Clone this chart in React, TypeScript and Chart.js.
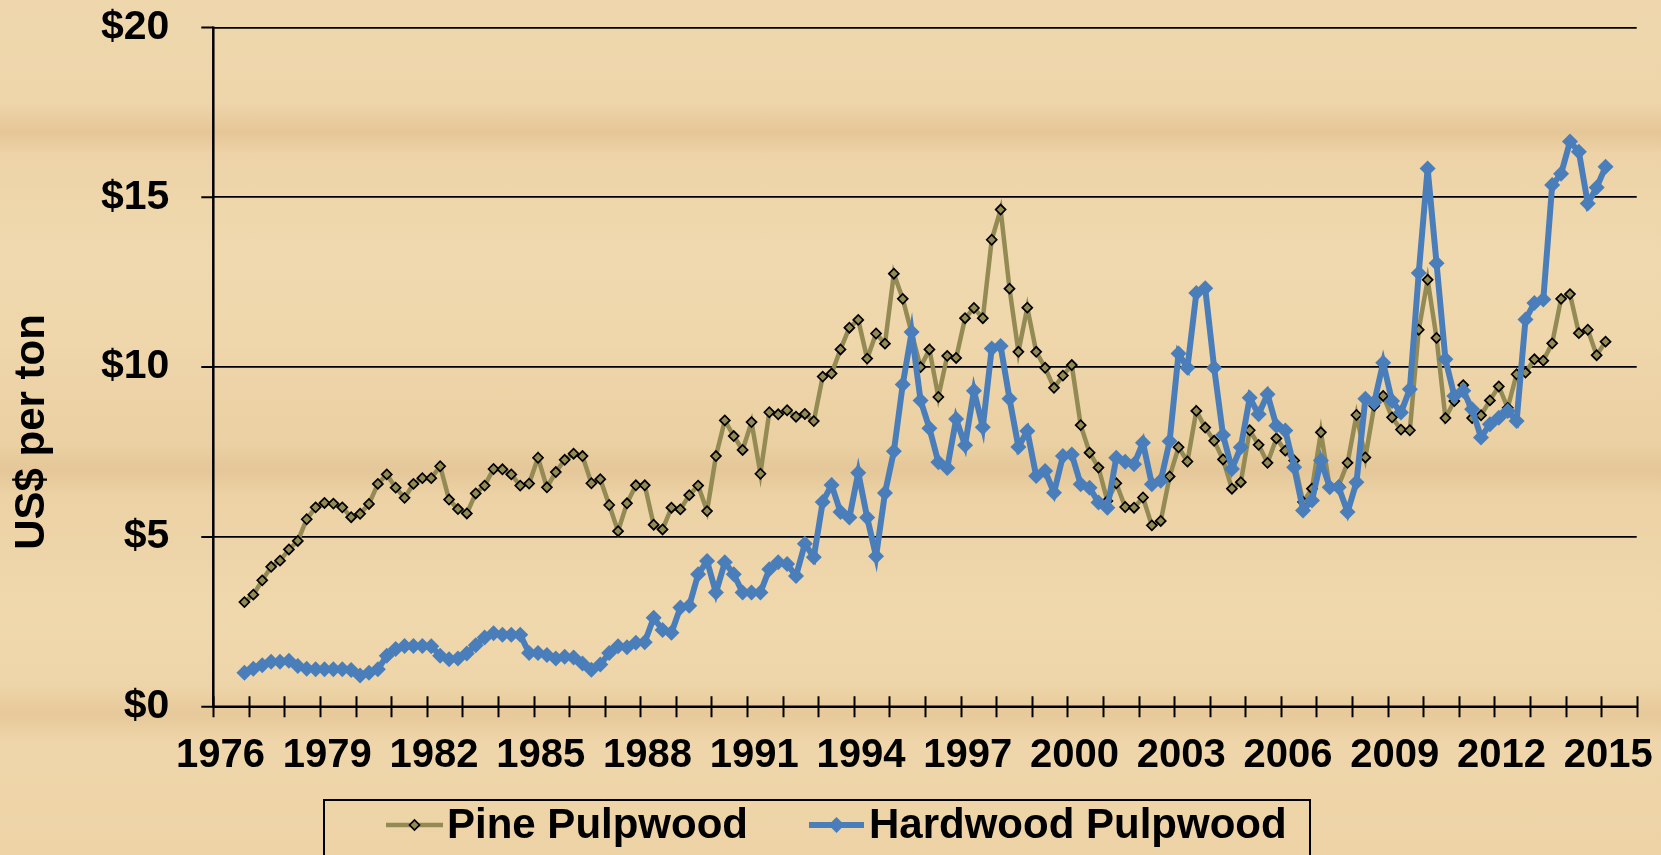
import React, { useEffect, useRef } from "react";
import { Chart, registerables } from "chart.js";

Chart.register(...registerables);

// ---- data ----
const firstYear = 1976;
const firstQuarter = 4; // series begin in 1976 Q4, quarterly through 2015 Q1
const xMin = 1976;
const xMax = 2016;
const xLabelYears = [1976, 1979, 1982, 1985, 1988, 1991, 1994, 1997, 2000, 2003, 2006, 2009, 2012, 2015];
const yTickValues = [0, 5, 10, 15, 20];
const seriesNames = ["Pine Pulpwood", "Hardwood Pulpwood"];
const yTitle = "US$ per ton";

const pinePulpwood = [
  3.08, 3.30, 3.72, 4.12, 4.30, 4.63, 4.88, 5.52, 5.87, 6.00,
  5.98, 5.87, 5.58, 5.68, 5.97, 6.56, 6.84, 6.45, 6.15, 6.56,
  6.73, 6.73, 7.08, 6.10, 5.82, 5.69, 6.28, 6.51, 7.00, 6.99,
  6.84, 6.51, 6.57, 7.33, 6.46, 6.91, 7.27, 7.45, 7.38, 6.58,
  6.70, 5.94, 5.17, 5.99, 6.52, 6.52, 5.36, 5.22, 5.86, 5.81,
  6.23, 6.51, 5.76, 7.38, 8.43, 7.97, 7.56, 8.38, 6.86, 8.67,
  8.61, 8.73, 8.54, 8.62, 8.41, 9.72, 9.81, 10.52, 11.16, 11.39,
  10.25, 10.99, 10.69, 12.75, 12.01, 11.00, 10.00, 10.52, 9.12, 10.33,
  10.27, 11.44, 11.74, 11.44, 13.75, 14.64, 12.31, 10.45, 11.75, 10.45,
  9.98, 9.39, 9.75, 10.06, 8.29, 7.48, 7.04, 6.06, 6.58, 5.88,
  5.86, 6.16, 5.34, 5.47, 6.78, 7.64, 7.22, 8.71, 8.22, 7.83,
  7.28, 6.42, 6.61, 8.14, 7.71, 7.18, 7.90, 7.54, 7.25, 6.03,
  6.42, 8.08, 6.46, 6.51, 7.18, 8.59, 7.34, 8.86, 9.15, 8.52,
  8.16, 8.14, 11.10, 12.57, 10.86, 8.50, 9.00, 9.47, 8.50, 8.58,
  9.02, 9.43, 8.80, 9.79, 9.84, 10.23, 10.19, 10.70, 12.01, 12.15,
  11.00, 11.10, 10.35, 10.75,
];

const hardwoodPulpwood = [
  1.00, 1.12, 1.22, 1.32, 1.32, 1.35, 1.20, 1.12, 1.10, 1.10,
  1.10, 1.10, 1.08, 0.92, 1.00, 1.10, 1.50, 1.70, 1.79, 1.79,
  1.79, 1.78, 1.50, 1.40, 1.42, 1.57, 1.81, 2.04, 2.16, 2.12,
  2.12, 2.12, 1.58, 1.58, 1.52, 1.42, 1.47, 1.45, 1.27, 1.09,
  1.24, 1.58, 1.78, 1.75, 1.88, 1.90, 2.62, 2.26, 2.18, 2.92,
  2.97, 3.90, 4.29, 3.36, 4.25, 3.90, 3.36, 3.36, 3.36, 4.05,
  4.25, 4.20, 3.85, 4.80, 4.40, 6.03, 6.53, 5.73, 5.57, 6.89,
  5.57, 4.43, 6.29, 7.52, 9.49, 11.03, 9.02, 8.20, 7.20, 7.03,
  8.47, 7.70, 9.30, 8.23, 10.55, 10.62, 9.07, 7.65, 8.12, 6.79,
  6.94, 6.30, 7.38, 7.43, 6.55, 6.45, 6.01, 5.86, 7.33, 7.21,
  7.14, 7.77, 6.55, 6.65, 7.82, 10.40, 9.98, 12.18, 12.32, 9.98,
  8.00, 7.00, 7.64, 9.10, 8.61, 9.20, 8.27, 8.13, 7.05, 5.78,
  6.07, 7.25, 6.46, 6.46, 5.73, 6.61, 9.07, 8.96, 10.13, 9.00,
  8.66, 9.35, 12.77, 15.85, 13.06, 10.23, 9.15, 9.30, 8.76, 7.93,
  8.32, 8.51, 8.71, 8.41, 11.40, 11.89, 11.99, 15.36, 15.69, 16.64,
  16.34, 14.82, 15.29, 15.90,
];

// ---- styling ----
const FONT = '"Liberation Sans", Arial, Helvetica, sans-serif';
const PINE_COLOR = "#948A54";
const HARD_COLOR = "#4A7EBB";
const LABEL_OFFSET = 0.2; // x labels sit a little right of the year tick

function toPoints(values: number[]) {
  return values.map((v, k) => {
    const qIndex = firstQuarter - 1 + k;
    return { x: firstYear + (qIndex + 0.5) / 4, y: v };
  });
}

const decorPlugin = {
  id: "decor",
  beforeDatasetsDraw(chart: any) {
    const { ctx, chartArea: a, scales } = chart;
    const x = scales.x;
    const y = scales.y;
    ctx.save();
    ctx.strokeStyle = "#000";
    ctx.lineWidth = 2.5;
    ctx.beginPath();
    ctx.moveTo(a.left, a.top - 1);
    ctx.lineTo(a.left, a.bottom + 1);
    ctx.moveTo(a.left - 1, a.bottom);
    ctx.lineTo(a.right, a.bottom);
    ctx.stroke();
    ctx.lineWidth = 2;
    ctx.beginPath();
    for (let yr = xMin; yr <= xMax; yr++) {
      const px = Math.round(x.getPixelForValue(yr)) + 0.5;
      ctx.moveTo(px, a.bottom - 10.5);
      ctx.lineTo(px, a.bottom + 10.5);
    }
    for (const v of yTickValues) {
      const py = y.getPixelForValue(v);
      ctx.moveTo(a.left - 12, py);
      ctx.lineTo(a.left, py);
    }
    ctx.stroke();
    ctx.restore();
  },
  afterDraw(chart: any) {
    const { ctx } = chart;
    ctx.save();
    // y-axis title
    ctx.translate(44, 432);
    ctx.rotate(-Math.PI / 2);
    ctx.fillStyle = "#000";
    ctx.font = `bold 42px ${FONT}`;
    ctx.textAlign = "center";
    ctx.textBaseline = "alphabetic";
    ctx.fillText(yTitle, 0, 0);
    ctx.restore();

    // legend box
    ctx.save();
    ctx.strokeStyle = "#000";
    ctx.lineWidth = 2;
    ctx.strokeRect(324, 800, 986, 90);
    const items = [
      { x0: 386, x1: 443, tx: 447 },
      { x0: 809, x1: 864, tx: 869 },
    ];
    const ly = 825;
    chart.data.datasets.forEach((ds: any, i: number) => {
      const it = items[i];
      ctx.strokeStyle = ds.borderColor;
      ctx.lineWidth = ds.borderWidth;
      ctx.beginPath();
      ctx.moveTo(it.x0, ly);
      ctx.lineTo(it.x1, ly);
      ctx.stroke();
      const cx = (it.x0 + it.x1) / 2;
      const r = ds.pointRadius;
      ctx.beginPath();
      ctx.moveTo(cx - r, ly);
      ctx.lineTo(cx, ly - r);
      ctx.lineTo(cx + r, ly);
      ctx.lineTo(cx, ly + r);
      ctx.closePath();
      ctx.fillStyle = ds.pointBackgroundColor;
      ctx.fill();
      if (ds.pointBorderWidth > 0) {
        ctx.strokeStyle = ds.pointBorderColor;
        ctx.lineWidth = ds.pointBorderWidth;
        ctx.stroke();
      }
      ctx.fillStyle = "#000";
      ctx.font = `bold 42px ${FONT}`;
      ctx.textAlign = "left";
      ctx.textBaseline = "middle";
      ctx.fillText(ds.label, it.tx, ly + 1);
    });
    ctx.restore();
  },
};

export default function App() {
  const canvasRef = useRef<HTMLCanvasElement | null>(null);

  useEffect(() => {
    const canvas = canvasRef.current;
    if (!canvas) return;
    const chart = new Chart(canvas, {
      type: "line",
      data: {
        datasets: [
          {
            label: seriesNames[0],
            data: toPoints(pinePulpwood),
            borderColor: PINE_COLOR,
            borderWidth: 4.5,
            pointStyle: "rectRot",
            pointRadius: 5,
            pointBackgroundColor: PINE_COLOR,
            pointBorderColor: "#000",
            pointBorderWidth: 1.7,
            tension: 0,
            order: 2,
          },
          {
            label: seriesNames[1],
            data: toPoints(hardwoodPulpwood),
            borderColor: HARD_COLOR,
            borderWidth: 6,
            pointStyle: "rectRot",
            pointRadius: 8,
            pointBackgroundColor: HARD_COLOR,
            pointBorderColor: HARD_COLOR,
            pointBorderWidth: 0,
            tension: 0,
            order: 1,
          },
        ],
      },
      options: {
        animation: false,
        responsive: true,
        maintainAspectRatio: false,
        layout: { padding: { top: 27.5, right: 24.3, left: 0, bottom: 0 } },
        plugins: {
          legend: { display: false },
          tooltip: { enabled: false },
        },
        scales: {
          x: {
            type: "linear",
            min: xMin,
            max: xMax,
            afterBuildTicks: (s: any) => {
              s.ticks = xLabelYears.map((v) => ({ value: v + LABEL_OFFSET }));
            },
            afterFit: (s: any) => {
              s.height = 148.3;
              s.paddingLeft = 0;
              s.paddingRight = 0;
              s.paddingTop = 0;
              s.paddingBottom = 0;
            },
            grid: { display: false, drawTicks: false },
            border: { display: false },
            ticks: {
              autoSkip: false,
              maxRotation: 0,
              minRotation: 0,
              padding: 25,
              color: "#000",
              font: { family: FONT, size: 40, weight: "bold" },
              callback: (v: any) => String(Math.round(Number(v) - LABEL_OFFSET)),
            },
          },
          y: {
            type: "linear",
            min: 0,
            max: 20,
            afterBuildTicks: (s: any) => {
              s.ticks = yTickValues.map((v) => ({ value: v }));
            },
            afterFit: (s: any) => {
              s.width = 213.3;
              s.paddingTop = 0;
              s.paddingBottom = 0;
              s.paddingLeft = 0;
              s.paddingRight = 0;
            },
            grid: { color: "#000", lineWidth: 1.75, drawTicks: false },
            border: { display: false },
            ticks: {
              padding: 44,
              color: "#000",
              font: { family: FONT, size: 41, weight: "bold" },
              callback: (v: any) => "$" + v,
            },
          },
        },
      },
      plugins: [decorPlugin],
    } as any);
    return () => chart.destroy();
  }, []);

  return (
    <div
      style={{
        position: "fixed",
        left: 0,
        top: 0,
        width: 1661,
        height: 855,
        background:
          "linear-gradient(to bottom, #EFD7AD 0%, #EED5AA 12%, #E6C697 15.5%, #EDD3A7 18%, #F0D9AF 30%, #EFD6AB 40%, #EAD0A2 52%, #E5C799 55%, #ECD2A5 58%, #F0D8AD 72%, #EED5A9 80%, #E7C99A 83.5%, #EFD6AA 87%, #EDD3A6 100%)",
      }}
    >
      <canvas ref={canvasRef} />
    </div>
  );
}
